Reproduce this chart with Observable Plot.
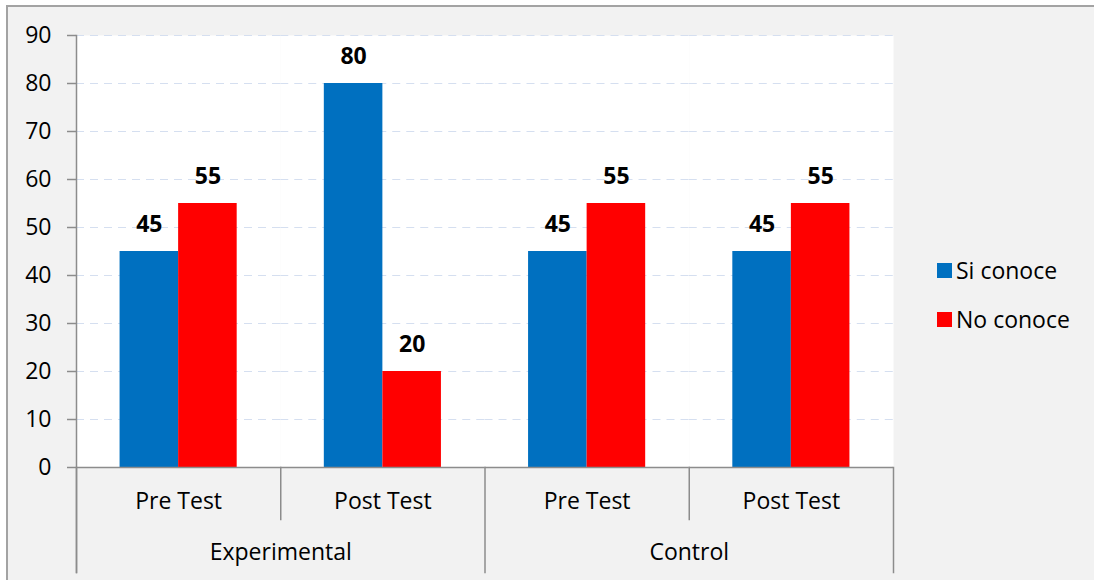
<!DOCTYPE html>
<html><head><meta charset="utf-8">
<script src="https://cdn.jsdelivr.net/npm/d3@7"></script>
<script src="https://cdn.jsdelivr.net/npm/@observablehq/plot@0.6"></script>
<style>
body{margin:0;background:#fff;}
#wrap{position:relative;width:1094px;height:580px;overflow:hidden;}
#bg{position:absolute;left:6px;top:5px;width:1200px;height:700px;background:#f2f2f2;border-top:2px solid #a3a3a3;border-left:2px solid #a3a3a3;}
#chart{position:absolute;left:0;top:0;}
.lg{position:absolute;font-family:"Open Sans",sans-serif;font-size:23px;color:#000;line-height:30px;height:30px;white-space:nowrap;}
.sw{position:absolute;width:15px;height:15px;}
</style></head>
<body>
<div id="wrap"><div id="bg"></div><div id="chart"></div>
<div id="legend"></div></div>
<script>
const groups = ["Experimental", "Experimental", "Control", "Control"];
const tests = ["Pre Test", "Post Test", "Pre Test", "Post Test"];
const series = ["Si conoce", "No conoce"];
const siConoce = [45, 80, 45, 45];
const noConoce = [55, 20, 55, 55];
const yTicks = [0, 10, 20, 30, 40, 50, 60, 70, 80, 90];
const colors = ["#0070c0", "#ff0000"];

const keys = groups.map((g, i) => g + " · " + tests[i]);
const rows = keys.flatMap((k, i) => [
  {key: k, serie: series[0], value: siConoce[i]},
  {key: k, serie: series[1], value: noConoce[i]}
]);
const cats = keys.map((k, i) => ({key: k, test: tests[i], group: groups[i]}));
const firstOfGroup = cats.filter((c, i) => i === 0 || groups[i] !== groups[i - 1]);
const laterInGroup = cats.filter((c, i) => i > 0 && groups[i] === groups[i - 1]);

const axisGrey = "#8c8c8c";
const H = 580, MT = 35, MB = 113;
const plotH = H - MT - MB;
const FS = 23;

const plot = Plot.plot({
  width: 1094, height: H,
  marginLeft: 76, marginRight: 201, marginTop: MT, marginBottom: MB,
  style: {background: "transparent", fontFamily: "'Open Sans', sans-serif", fontSize: FS + "px", color: "#000"},
  fx: {domain: keys, padding: 0, axis: null, round: false},
  x: {domain: series, paddingInner: 0, paddingOuter: 0.744, axis: null, round: false},
  y: {domain: [0, 90], axis: null},
  color: {domain: series, range: colors},
  marks: [
    Plot.frame({fill: "white", stroke: "none"}),
    Plot.gridY(yTicks, {stroke: "#d5dff0", strokeOpacity: 1, strokeDasharray: "8,6"}),
    Plot.barY(rows, {fx: "key", x: "serie", y: "value", fill: "serie", inset: 0}),
    Plot.text(rows, {fx: "key", x: "serie", y: "value", text: "value", dy: -27, fontWeight: "bold", fontSize: FS, fill: "#000"}),
    Plot.ruleY([0], {stroke: axisGrey, strokeWidth: 1.5}),
    Plot.axisY(yTicks, {label: null, tickSize: 9, tickPadding: 16, fontSize: FS, stroke: axisGrey, fill: "#000", strokeWidth: 1.5}),
    Plot.frame({anchor: "left", facetAnchor: "left", insetBottom: -105, stroke: axisGrey, strokeWidth: 1.5}),
    Plot.frame({anchor: "right", facetAnchor: "right", insetTop: plotH, insetBottom: -105, stroke: axisGrey, strokeWidth: 1.5}),
    ...firstOfGroup.map(c => Plot.frame({fx: c.key, anchor: "left", insetTop: plotH, insetBottom: -105, stroke: axisGrey, strokeWidth: 1.5})),
    ...laterInGroup.map(c => Plot.frame({fx: c.key, anchor: "left", insetTop: plotH, insetBottom: -52, stroke: axisGrey, strokeWidth: 1.5})),
    Plot.text(cats, {fx: "key", text: "test", frameAnchor: "bottom", dy: 41, fontSize: FS, fill: "#000"}),
    Plot.text(firstOfGroup, {fx: "key", text: "group", frameAnchor: "bottom-right", textAnchor: "middle", dy: 92, fontSize: FS, fill: "#000"})
  ]
});
document.getElementById("chart").appendChild(plot);

const lg = document.getElementById("legend");
series.forEach((s, i) => {
  const top = 263 + i * 49;
  const sw = document.createElement("div");
  sw.className = "sw";
  sw.style.left = "937px"; sw.style.top = top + "px"; sw.style.background = colors[i];
  lg.appendChild(sw);
  const t = document.createElement("div");
  t.className = "lg";
  t.style.left = "956px"; t.style.top = (top - 8) + "px";
  t.textContent = s;
  lg.appendChild(t);
});
</script>
</body></html>
